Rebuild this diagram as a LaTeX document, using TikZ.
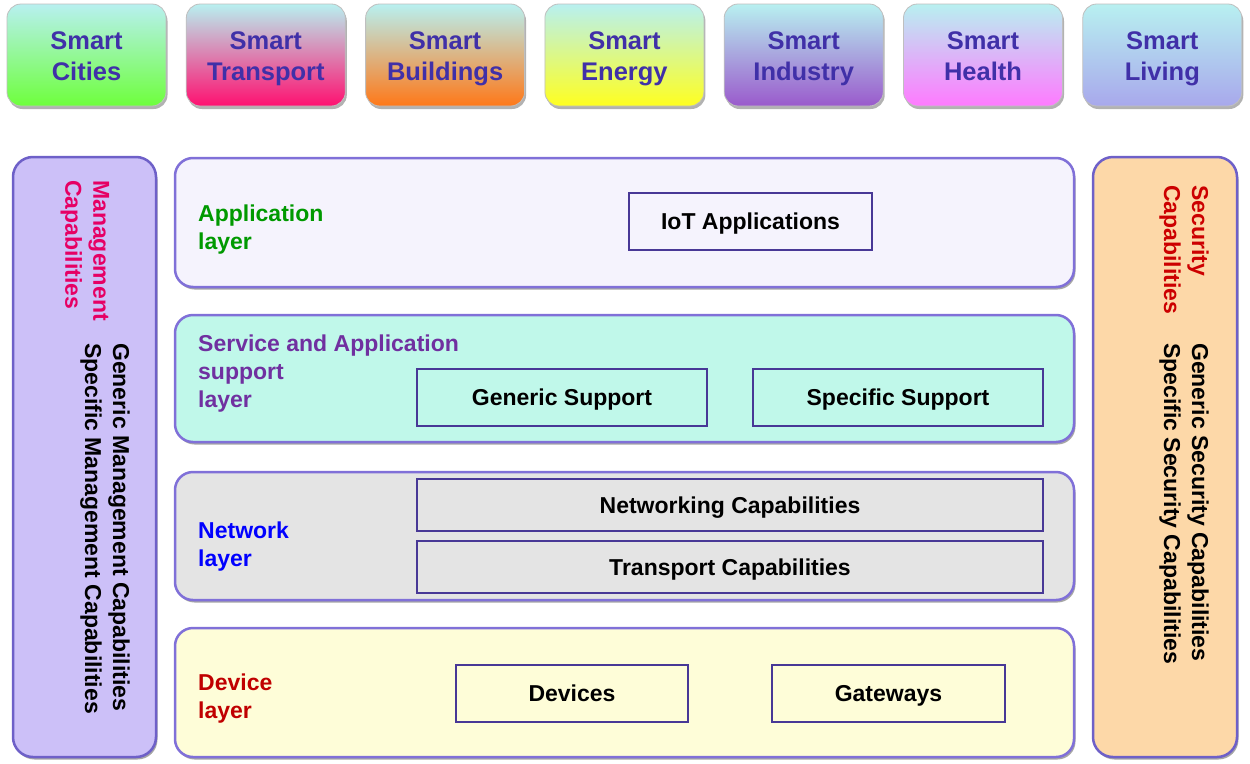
\documentclass[tikz,border=0pt]{standalone}
\usepackage{fontspec}
\setmainfont{Liberation Sans}
\usetikzlibrary{shadows}
\definecolor{topcyan}{RGB}{184,240,240}
\definecolor{smarttext}{RGB}{64,48,168}
\definecolor{layerborder}{RGB}{128,112,216}
\definecolor{inborder}{RGB}{72,56,150}
\definecolor{panelborder}{RGB}{110,96,200}
\definecolor{mgmtfill}{RGB}{204,192,248}
\definecolor{secfill}{RGB}{253,216,168}
\definecolor{appfill}{RGB}{245,243,253}
\definecolor{svcfill}{RGB}{192,248,234}
\definecolor{netfill}{RGB}{228,228,228}
\definecolor{devfill}{RGB}{254,253,216}
\definecolor{appgreen}{RGB}{0,153,0}
\definecolor{svcpurple}{RGB}{112,48,160}
\definecolor{netblue}{RGB}{0,0,255}
\definecolor{devred}{RGB}{192,0,0}
\definecolor{mgmtred}{RGB}{230,0,100}
\definecolor{secred}{RGB}{204,0,0}
\definecolor{cgreen}{RGB}{110,255,60}
\definecolor{cpink}{RGB}{255,16,112}
\definecolor{corange}{RGB}{255,120,24}
\definecolor{cyellow}{RGB}{255,255,32}
\definecolor{cpurple}{RGB}{154,90,204}
\definecolor{cmagenta}{RGB}{255,122,255}
\definecolor{clav}{RGB}{168,168,236}
\newcommand{\toptwo}[2]{\rule{0pt}{29.6pt}#1\\#2\strut}
\begin{document}
\begin{tikzpicture}[x=1pt,y=-1pt,
  topbox/.style={rounded corners=14pt, minimum width=159pt, minimum height=102pt,
    inner sep=0pt, draw=black!25, line width=0.8pt, top color=topcyan, bottom color=#1,
    align=center, text=smarttext, font=\fontsize{25.5}{31}\selectfont\bfseries,
    drop shadow={shadow xshift=1.5pt, shadow yshift=-3pt, fill=black, opacity=0.3}},
  layerbox/.style={rounded corners=18pt, minimum width=899pt, inner sep=0pt,
    draw=layerborder, line width=2.5pt, fill=#1,
    drop shadow={shadow xshift=1.5pt, shadow yshift=-2.5pt, fill=black, opacity=0.35}},
  inbox/.style={draw=inborder, line width=1.5pt, inner sep=0pt,
    text height=16.5pt, text depth=0pt,
    font=\fontsize{23}{28}\selectfont\bfseries},
  lbl/.style={anchor=west, align=left, inner sep=0pt, text=#1,
    font=\fontsize{23}{28}\selectfont\bfseries},
  panel/.style={rounded corners=20pt, minimum height=600pt, inner sep=0pt,
    draw=panelborder, line width=2.5pt, fill=#1,
    drop shadow={shadow xshift=1.5pt, shadow yshift=-2.5pt, fill=black, opacity=0.35}},
  side/.style={rotate=-90, anchor=west, align=left, inner sep=0pt, text=#1,
    font=\fontsize{23}{28}\selectfont\bfseries}
]
\useasboundingbox[fill=white] (0,0) rectangle (1250,763);

% top application domains
\node[topbox=cgreen]    (cities)    at (86.5,55)  {\toptwo{Smart}{Cities}};
\node[topbox=cpink]     (transport) at (265.8,55) {\toptwo{Smart}{Transport}};
\node[topbox=corange]   (buildings) at (445.1,55) {\toptwo{Smart}{Buildings}};
\node[topbox=cyellow]   (energy)    at (624.4,55) {\toptwo{Smart}{Energy}};
\node[topbox=cpurple]   (industry)  at (803.7,55) {\toptwo{Smart}{Industry}};
\node[topbox=cmagenta]  (health)    at (983,55)   {\toptwo{Smart}{Health}};
\node[topbox=clav]      (living)    at (1162.3,55){\toptwo{Smart}{Living}};

% side panels
\node[panel=mgmtfill, minimum width=143pt] (mgmt) at (84.5,457) {};
\node[panel=secfill, minimum width=144pt] (sec) at (1165,457) {};
\node[side=mgmtred] (mgmttitle) at (85,180) {Management\\Capabilities};
\node[side=black] (mgmtbody) at (105,343) {Generic Management Capabilities\\Specific Management Capabilities};
\node[side=secred] (sectitle) at (1184,185) {Security\\Capabilities};
\node[side=black] (secbody) at (1184,343) {Generic Security Capabilities\\Specific Security Capabilities};

% layers
\node[layerbox=appfill, minimum height=129pt] (app) at (624.5,222.5) {};
\node[layerbox=svcfill, minimum height=127pt] (svc) at (624.5,378.5) {};
\node[layerbox=netfill, minimum height=128pt] (net) at (624.5,536) {};
\node[layerbox=devfill, minimum height=129pt] (dev) at (624.5,692.5) {};

\node[lbl=appgreen]  (applbl) at (198,230)   {Application\\layer};
\node[lbl=svcpurple] (svclbl) at (198,374) {Service and Application\\support\\layer};
\node[lbl=netblue]   (netlbl) at (198,547)   {Network\\layer};
\node[lbl=devred]    (devlbl) at (198,699)   {Device\\layer};

% inner boxes
\node[inbox, minimum width=243pt, minimum height=57pt] (iot) at (750.5,221.5) {IoT Applications};
\node[inbox, minimum width=290pt, minimum height=57pt] (gensup) at (562,397.5) {Generic Support};
\node[inbox, minimum width=290pt, minimum height=57pt] (specsup) at (898,397.5) {Specific Support};
\node[inbox, minimum width=626pt, minimum height=52pt] (netcap) at (730,505) {Networking Capabilities};
\node[inbox, minimum width=626pt, minimum height=52pt] (tracap) at (730,567) {Transport Capabilities};
\node[inbox, minimum width=232pt, minimum height=57pt] (devices) at (572,693.5) {Devices};
\node[inbox, minimum width=233pt, minimum height=57pt] (gateways) at (888.5,693.5) {Gateways};
\end{tikzpicture}
\end{document}
